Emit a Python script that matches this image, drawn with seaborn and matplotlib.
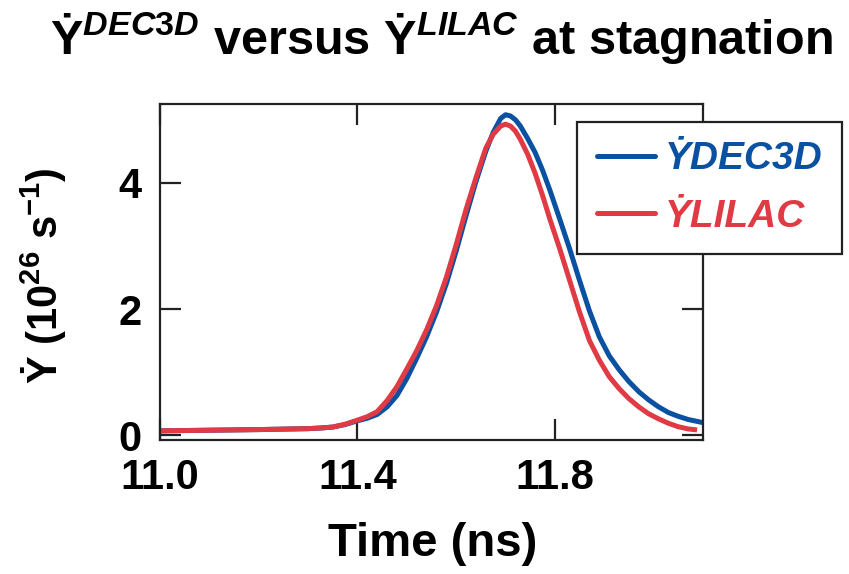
import numpy as np
import pandas as pd
import matplotlib
matplotlib.use("Agg")
import matplotlib.pyplot as plt
import seaborn as sns
from matplotlib.lines import Line2D

# ---- data ----
time_dec3d = [11.00, 11.10, 11.20, 11.30, 11.325, 11.35, 11.375, 11.40, 11.42, 11.44,
              11.46, 11.48, 11.50, 11.52, 11.54, 11.56, 11.58, 11.60, 11.62, 11.64,
              11.66, 11.675, 11.69, 11.70, 11.71, 11.72, 11.73, 11.745, 11.76, 11.775,
              11.79, 11.81, 11.83, 11.85, 11.87, 11.89, 11.91, 11.93, 11.95, 11.97,
              11.99, 12.01, 12.03, 12.05, 12.07, 12.10]
ydot_dec3d = [0.07, 0.08, 0.09, 0.105, 0.115, 0.13, 0.17, 0.23, 0.27, 0.33,
              0.45, 0.63, 0.90, 1.22, 1.56, 1.95, 2.40, 2.92, 3.48, 4.02,
              4.50, 4.80, 5.02, 5.08, 5.06, 5.00, 4.90, 4.70, 4.48, 4.20,
              3.88, 3.42, 2.95, 2.45, 1.97, 1.56, 1.26, 1.04, 0.85, 0.69,
              0.56, 0.45, 0.36, 0.30, 0.25, 0.20]

time_lilac = [11.00, 11.10, 11.20, 11.30, 11.325, 11.35, 11.375, 11.40, 11.42, 11.44,
              11.46, 11.48, 11.50, 11.52, 11.54, 11.56, 11.58, 11.60, 11.62, 11.64,
              11.66, 11.675, 11.69, 11.70, 11.71, 11.72, 11.73, 11.745, 11.76, 11.775,
              11.79, 11.81, 11.83, 11.85, 11.87, 11.89, 11.91, 11.93, 11.95, 11.97,
              11.99, 12.01, 12.03, 12.05, 12.07, 12.088]
ydot_lilac = [0.07, 0.08, 0.09, 0.105, 0.115, 0.13, 0.175, 0.24, 0.295, 0.375,
              0.55, 0.77, 1.05, 1.34, 1.67, 2.05, 2.50, 3.02, 3.58, 4.08,
              4.55, 4.77, 4.90, 4.93, 4.90, 4.82, 4.69, 4.45, 4.15, 3.80,
              3.42, 2.95, 2.45, 1.95, 1.50, 1.19, 0.93, 0.74, 0.58, 0.45,
              0.34, 0.26, 0.19, 0.135, 0.10, 0.085]

series_names = ["DEC3D", "LILAC"]
x_ticks = [11.0, 11.4, 11.8]
x_tick_labels = ["11.0", "11.4", "11.8"]
y_ticks = [0, 2, 4]
y_tick_labels = ["0", "2", "4"]
colors = {"DEC3D": "#0a51a1", "LILAC": "#e03a45"}

df = pd.concat([
    pd.DataFrame({"time": time_dec3d, "ydot": ydot_dec3d, "code": "DEC3D"}),
    pd.DataFrame({"time": time_lilac, "ydot": ydot_lilac, "code": "LILAC"}),
], ignore_index=True)

# ---- style ----
sns.set_theme(style="ticks")
FAM = ["Liberation Sans", "DejaVu Sans"]
plt.rcParams["font.family"] = FAM
plt.rcParams["font.weight"] = "bold"
plt.rcParams["text.color"] = "black"
plt.rcParams["axes.labelcolor"] = "black"
plt.rcParams["xtick.color"] = "#222222"
plt.rcParams["ytick.color"] = "#222222"
plt.rcParams["xtick.labelcolor"] = "black"
plt.rcParams["ytick.labelcolor"] = "black"
plt.rcParams["mathtext.fontset"] = "custom"
plt.rcParams["mathtext.rm"] = "Liberation Sans:bold"
plt.rcParams["mathtext.bf"] = "Liberation Sans:bold"
plt.rcParams["mathtext.it"] = "Liberation Sans:bold:italic"
plt.rcParams["mathtext.sf"] = "Liberation Sans:bold"
plt.rcParams["mathtext.default"] = "rm"

fig = plt.figure(figsize=(8.49, 5.74), dpi=100)
ax = fig.add_axes([160 / 849, 1 - 440 / 574, 543 / 849, 336 / 574])

sns.lineplot(data=df, x="time", y="ydot", hue="code", palette=colors,
             linewidth=3.6, ax=ax, legend=False, sort=False, estimator=None)
for ln in ax.get_lines():
    ln.set_solid_joinstyle("round")
    ln.set_solid_capstyle("butt")

ax.set_xlim(11.0, 12.1)
ax.set_ylim(-0.075, 5.25)
ax.set_xticks(x_ticks)
ax.set_xticklabels(x_tick_labels)
ax.set_yticks(y_ticks)
ax.set_yticklabels(y_tick_labels)

for s in ax.spines.values():
    s.set_visible(True)
    s.set_linewidth(1.6)
    s.set_color("#222222")

ax.tick_params(axis="both", which="major", direction="in", length=15, width=1.6,
               top=True, right=True, labelsize=30, pad=13)
for lab in ax.get_xticklabels() + ax.get_yticklabels():
    lab.set_fontweight("bold")

ax.set_xlabel("Time (ns)", fontsize=34, fontweight="bold")
ax.xaxis.set_label_coords(0.503, -0.31)
ax.xaxis.label.set_va("center")
ax.set_ylabel("Ẏ (10$^{26}$ s$^{-1}$)", fontsize=30, fontweight="bold")
ax.yaxis.set_label_coords(-0.215, 0.49)
ax.yaxis.label.set_va("center")

fig.text(441 / 849, 1 - 38 / 574,
         r"Ẏ$^{\mathit{DEC3D}}$ versus Ẏ$^{\mathit{LILAC}}$ at stagnation",
         ha="center", va="center", fontsize=35, fontweight="bold")

handles = [Line2D([0], [0], color=colors[n], linewidth=3.6) for n in series_names]
labels = ["Ẏ" + n for n in series_names]
leg = fig.legend(handles, labels, loc="upper right",
                 bbox_to_anchor=(842 / 849, 1 - 122 / 574), borderaxespad=0,
                 frameon=True, fancybox=False, handlelength=1.5, handletextpad=0.25,
                 borderpad=0.5, labelspacing=0.55,
                 prop={"family": FAM, "weight": "bold", "style": "italic", "size": 28},
                 labelcolor="linecolor")
leg.get_frame().set_edgecolor("#222222")
leg.get_frame().set_linewidth(1.6)
leg.get_frame().set_alpha(1)

fig.savefig("out.png", dpi=100)
